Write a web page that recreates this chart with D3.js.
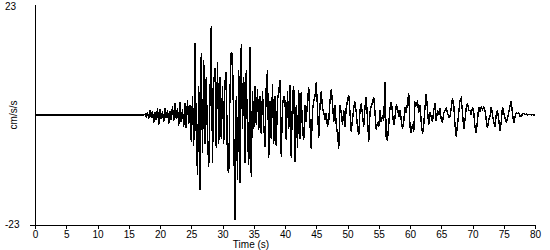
<!DOCTYPE html>
<html>
<head>
<meta charset="utf-8">
<script src="https://cdn.jsdelivr.net/npm/d3@7"></script>
<style>
  html, body { margin: 0; padding: 0; background: #fff; }
  svg { display: block; }
  text { font-family: "Liberation Sans", Arial, sans-serif; font-size: 10px; fill: #000; }
</style>
</head>
<body>
<svg id="chart" width="550" height="250"></svg>
<script>
// ---- data ----
const recordStart = 0;     // s, record begins (quiet, zero acceleration)
const onset = 16.0;        // s, time of first sample in acc
const dt = 0.2;            // s, sample spacing
const acc = [              // cm/s/s, one row per 2 s
  0, 0, 0, 0, 0, 0, 0, 0, 0.2, -0.3,                 // 16
  0.6, -0.8, 1.0, -0.5, 0.9, -1.6, 0.7, -1.1, 1.4, -2.0, // 18
  1.2, -0.9, 0.8, -1.5, 1.5, -0.6, 1.1, -1.8, 0.9, -1.0, // 20
  1.8, -1.2, 2.4, -0.8, 1.5, -2.2, 2.8, -1.5, 1.2, -2.4, // 22
  2.5, -2.8, 3.2, -1.8, 2.0, -5.6, 4.0, -6.5, 15.0, -4.0, // 24
  -12.5, 6.0, -15.7, 13.0, -8.0, 11.5, -6.0, 8.0, -5.0, -10.8, // 26
  4.0, 18.6, -10.0, 7.0, 9.8, -7.0, 11.0, -6.0, 8.0, -5.0, // 28
  6.0, -6.0, 7.0, 9.0, -10.8, -12.2, 5.0, 13.2, 12.5, -4.0, // 30
  -22.0, 4.0, -13.6, 9.5, -14.2, 14.8, -3.0, 8.0, -10.0, 9.4, // 32
  -4.0, -10.5, 14.3, -12.9, 5.0, -3.0, 6.0, -2.0, 5.5, -3.1, // 34
  4.0, -4.0, 5.0, -2.0, -6.6, 6.0, 9.4, -9.0, 3.0, -5.0, // 36
  6.5, -6.0, 4.0, -6.5, 3.0, 5.0, 7.3, -8.7, 2.0, 4.0, // 38
  3.0, -5.2, 5.0, -3.0, 6.3, -9.0, 4.0, 6.0, -9.8, 2.0, // 40
  -7.0, 5.2, -5.0, 4.9, -3.5, -5.2, 2.0, -1.5, 3.0, 5.9, // 42
  -2.0, -7.0, 1.0, 3.0, 4.0, 6.8, 1.5, -4.8, 2.0, 5.0, // 44
  1.5, 0.5, -1.0, 0.5, -2.5, -1.2, 3.0, 5.4, 2.5, -1.5, // 46
  2.0, -2.0, -4.0, -7.0, 2.0, 0.5, -2.0, 1.0, -2.5, 1.5, // 48
  3.0, 4.2, 0.5, -3.5, -1.0, 1.5, 2.8, 0.5, -2.5, -4.2, // 50
  1.0, 2.4, 0.0, -2.4, 1.7, 3.8, -1.0, -5.6, 0.5, 2.0, // 52
  2.5, 3.8, 0.5, -3.1, -1.5, -2.5, 1.0, -1.5, 0.0, -1.2, // 54
  6.8, -4.9, -5.2, -2.0, 1.5, 2.8, 0.5, -2.1, -0.5, 2.0, // 56
  1.5, -0.5, 1.0, -1.0, -2.8, -1.5, 1.7, 0.5, 2.5, 4.5, // 58
  -2.4, -3.8, -2.0, -3.5, 2.6, 2.2, 2.8, 0.5, 2.1, -1.5, // 60
  -4.0, -2.0, 1.5, 4.4, 1.0, -2.1, 0.7, -0.5, -1.4, 1.0, // 62
  2.4, -1.3, 1.0, 0.0, 1.4, -1.0, -1.7, 0.5, 1.0, 1.4, // 64
  0.5, -0.5, -0.3, 1.5, 3.5, 2.0, -2.0, -4.5, -2.0, 0.5, // 66
  3.0, 3.5, 0.5, -3.0, -1.0, 1.5, 2.4, 1.0, 1.0, 0.0, // 68
  1.7, 0.5, -2.5, -3.8, -1.0, 1.7, 0.8, 1.7, 1.2, 1.6, // 70
  1.0, -1.0, -2.8, -1.0, -0.3, 1.7, 0.0, -1.5, -2.4, 0.0, // 72
  1.0, -1.0, -3.3, -1.5, 1.7, 0.5, -0.7, -1.4, -0.8, 0.5, // 74
  2.0, 3.0, 0.3, -1.7, -0.5, 0.5, 0.3, 0.4, -0.2, -0.3, // 76
  0.2, 0.3, 0.1, 0.2, 0.0, 0.1, 0.1, 0.0, 0.1, 0.0, // 78
  0.0                                                // 80
];
const xTicks = [0, 5, 10, 15, 20, 25, 30, 35, 40, 45, 50, 55, 60, 65, 70, 75, 80];
const yLimits = [-23, 23];
const xLabel = "Time (s)";
const yLabel = "cm/s/s";

// ---- build ----
const series = [{ t: recordStart, v: 0 }].concat(
  acc.map((v, i) => ({ t: onset + i * dt, v }))
);

const svg = d3.select("#chart");
const x = d3.scaleLinear().domain([0, 80]).range([35, 535]);
const y = d3.scaleLinear().domain(yLimits).range([225, 5]);

// waveform
const line = d3.line().x(d => x(d.t)).y(d => y(d.v));
svg.append("path")
  .datum(series)
  .attr("d", line)
  .attr("fill", "none")
  .attr("stroke", "#000")
  .attr("stroke-width", 1.4)
  .attr("stroke-linejoin", "miter")
  .attr("shape-rendering", "crispEdges");

// x axis
const gx = svg.append("g").attr("transform", `translate(0,${y(yLimits[0])})`)
  .call(d3.axisBottom(x).tickValues(xTicks).tickSize(4).tickPadding(2).tickFormat(d3.format("d")));
gx.select(".domain").remove();
gx.selectAll(".tick line").attr("stroke", "#000").attr("shape-rendering", "crispEdges");
gx.selectAll(".tick text").style("font-size", "10px").style("font-family", '"Liberation Sans", Arial, sans-serif');
svg.append("line")
  .attr("x1", x(0) - 5).attr("x2", x(80))
  .attr("y1", y(yLimits[0])).attr("y2", y(yLimits[0]))
  .attr("stroke", "#000").attr("stroke-width", 1)
  .attr("shape-rendering", "crispEdges");

// y axis line
svg.append("line")
  .attr("x1", x(0)).attr("x2", x(0))
  .attr("y1", y(yLimits[1])).attr("y2", y(yLimits[0]))
  .attr("stroke", "#000").attr("stroke-width", 1)
  .attr("shape-rendering", "crispEdges");

// y limit labels
svg.append("text").attr("x", 5).attr("y", y(yLimits[1]) + 5).text(String(yLimits[1]));
svg.append("text").attr("x", 5).attr("y", y(yLimits[0]) + 3).text(String(yLimits[0]));

// axis titles
svg.append("text").attr("x", 251).attr("y", 248).attr("text-anchor", "middle").text(xLabel);
svg.append("text")
  .attr("transform", `translate(17,${y(0)}) rotate(-90)`)
  .attr("text-anchor", "middle")
  .text(yLabel);
</script>
</body>
</html>
